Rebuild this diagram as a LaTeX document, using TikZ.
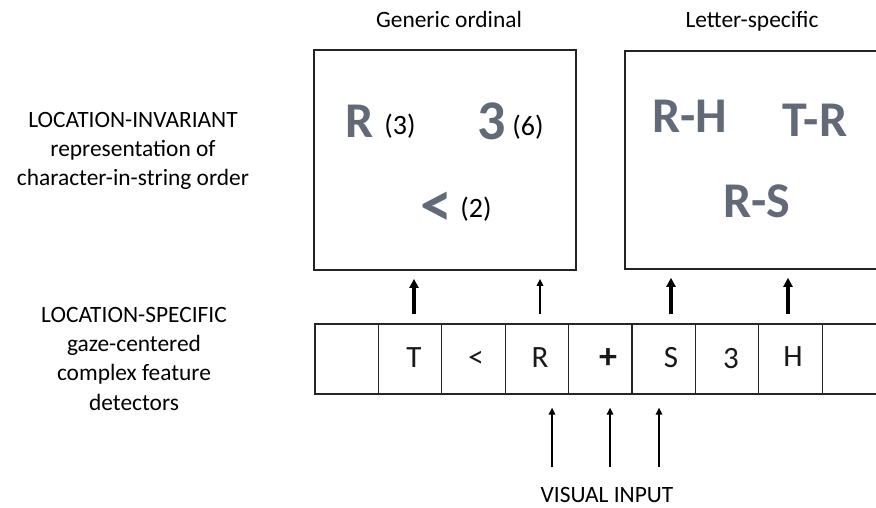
\documentclass[tikz,border=0pt]{standalone}
\usepackage{fontspec}
\setmainfont{Carlito}
\usetikzlibrary{arrows.meta}
\definecolor{bigtxt}{RGB}{98,106,120}
\definecolor{framecol}{RGB}{35,35,35}
\begin{document}
\begin{tikzpicture}[x=1pt,y=-1pt,
  lbl/.style={font=\fontsize{23.4}{29.3}\selectfont, align=center, inner sep=0pt},
  ttl/.style={font=\fontsize{23.4}{28}\selectfont, inner sep=0pt, anchor=base},
  panel/.style={draw=framecol, line width=1.8pt, inner sep=0pt},
  cell/.style={draw=black!85, line width=1.3pt, minimum width=63.4pt, minimum height=70pt, inner sep=0pt},
  ctext/.style={font=\fontsize{31}{31}\selectfont, text=black!90, inner sep=0pt, anchor=base},
  bigtext/.style={font=\fontsize{50}{50}\selectfont\bfseries, text=bigtxt, inner sep=0pt, anchor=base},
  paren/.style={font=\fontsize{28}{28}\selectfont, inner sep=0pt, anchor=base},
  thickarr/.style={line width=3.4pt, -{Triangle[length=9pt,width=9pt]}, shorten <=9pt, shorten >=8pt},
  thinarr/.style={line width=1.4pt, -{Triangle[length=7pt,width=6.5pt]}, shorten <=9pt, shorten >=8pt},
  uparr/.style={line width=1.4pt, -{Triangle[length=7pt,width=6.5pt]}, shorten >=13pt}
]
\useasboundingbox (0,0) rectangle (876,508);
\clip (0,0) rectangle (876,508);

% panels
\node[panel, minimum width=262pt, minimum height=220pt] (gen) at (445,160) {};
\node[panel, minimum width=280pt, minimum height=218pt, anchor=north west] (let) at (624,50) {};

% titles
\node[ttl] (gt) at (449,28) {Generic ordinal};
\node[ttl] (lt) at (752,28) {Letter-specific};

% generic ordinal contents
\node[bigtext] (bR) at (360,138) {R};
\node[paren] (p3) at (400,135) {(3)};
\node[bigtext, font=\fontsize{56}{56}\selectfont\bfseries] (b3) at (492,140) {3};
\node[paren] (p6) at (528,136) {(6)};
\node[bigtext, font=\fontsize{64}{64}\selectfont\bfseries] (blt) at (436,226) {<};
\node[paren] (p2) at (476,218) {(2)};

% letter-specific contents
\node[bigtext] (rh) at (690,133) {R-H};
\node[bigtext] (tr) at (815,137) {T-R};
\node[bigtext] (rs) at (757,217) {R-S};

% left labels
\node[lbl, anchor=north] (inv) at (133,112) {LOCATION-INVARIANT\\representation of\\character-in-string order};
\node[lbl, anchor=north] (spec) at (134,307) {LOCATION-SPECIFIC\\gaze-centered\\complex feature\\detectors};

% strip of cells
\foreach \i in {1,...,9}
  \node[cell] (c\i) at ({315+63.4*(\i-0.5)},359) {};

\node[ctext] (tT) at (414,367) {T};
\node[ctext] (tLt) at (476,367) {<};
\node[ctext] (tR) at (540,367) {R};
\node[ctext, font=\fontsize{36}{36}\selectfont\bfseries] (tPlus) at (608,368) {+};
\node[ctext] (tS) at (671,367) {S};
\node[ctext] (t3) at (731,368) {3};
\node[ctext] (tH) at (793,366) {H};

% upward arrows to the panels
\coordinate (hx) at ([xshift=-5pt]tH.base);
\draw[thickarr] (tT |- c2.north) -- (tT |- gen.south);
\draw[thinarr] (tR |- c4.north) -- (tR |- gen.south);
\draw[thickarr] (tS |- c6.north) -- (tS |- let.south);
\draw[thickarr] (hx |- c8.north) -- (hx |- let.south);

% visual input
\node[ttl] (vi) at (607,502) {VISUAL INPUT};
\coordinate (v1) at (552,467);
\coordinate (v2) at (610,467);
\coordinate (v3) at (659,467);
\draw[uparr] (v1) -- (v1 |- c4.south);
\draw[uparr] (v2) -- (v2 |- c5.south);
\draw[uparr] (v3) -- (v3 |- c6.south);
\end{tikzpicture}
\end{document}
